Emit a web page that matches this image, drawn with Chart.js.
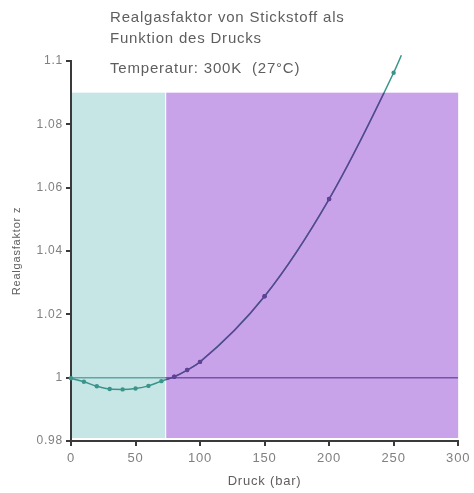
<!DOCTYPE html>
<html>
<head>
<meta charset="utf-8">
<script src="https://cdn.jsdelivr.net/npm/chart.js@4.4.1/dist/chart.umd.min.js"></script>
<style>
    html, body { margin: 0; padding: 0; background: #fff; }
    #wrap { width: 474px; height: 493px; }
</style>
</head>
<body>
<div id="wrap"><canvas id="zChart" width="474" height="493"></canvas></div>
<script>
const druck = [0, 10, 20, 30, 40, 50, 60, 70, 80, 90, 100, 150, 200, 250];
const realgasfaktor = [0.9998, 0.9987, 0.9973, 0.9964, 0.9963, 0.9966, 0.9974, 0.9989, 1.0003, 1.0024, 1.005, 1.0257, 1.0564, 1.0963];
// Verlängerung der Kurve über den letzten Punkt hinaus
const kurveEndeDruck = [256];
const kurveEndeZ = [1.1018];

// Referenzlinie Z = 1
const idealDruck = [0, 73, 300];
const idealZ = [1, 1, 1];

// Hintergrundbereiche
const bereichVon = [0, 73];
const bereichBis = [73, 300];
const bereichOben = 1.09;
const bereichFarben = ['#c6e5e5', '#c9a3ea'];

const yTicks = [0.98, 1, 1.02, 1.04, 1.06, 1.08, 1.1];
const xTicks = [0, 50, 100, 150, 200, 250, 300];

const titelZeilen = ['Realgasfaktor von Stickstoff als', 'Funktion des Drucks'];
const untertitel = 'Temperatur: 300K  (27°C)';

const GRENZE = 73;
const TEAL = '#3a948a';
const LILA = '#5e4394';
const SCHRIFT = '"Liberation Sans", Arial, sans-serif';

function farbeFuer(x, y) {
    if (x < GRENZE || y > bereichOben) return TEAL;
    return LILA;
}

const kurvePunkte = druck.map((p, i) => ({ x: p, y: realgasfaktor[i] }))
    .concat(kurveEndeDruck.map((p, i) => ({ x: p, y: kurveEndeZ[i] })));
const idealPunkte = idealDruck.map((p, i) => ({ x: p, y: idealZ[i] }));

function lilaRechteck(chart) {
    const { x, y } = chart.scales;
    const x0 = x.getPixelForValue(bereichVon[1]) + 1;
    const x1 = x.getPixelForValue(bereichBis[1]);
    const yTop = y.getPixelForValue(bereichOben);
    const yBot = y.getPixelForValue(y.min) - 3;
    return [x0, yTop, x1 - x0, yBot - yTop];
}

// Hintergrundflächen hinter den Daten, Kurve im lila Bereich nachfärben
const bereichPlugin = {
    id: 'bereiche',
    beforeDraw(chart) {
        chart.ctx.letterSpacing = '0.8px';
    },
    beforeDatasetsDraw(chart) {
        const { ctx, scales: { x, y } } = chart;
        ctx.save();
        const yTop = y.getPixelForValue(bereichOben);
        const yBot = y.getPixelForValue(y.min) - 3;
        bereichVon.forEach((von, i) => {
            const x0 = x.getPixelForValue(von) + 1;
            const x1 = x.getPixelForValue(bereichBis[i]);
            ctx.fillStyle = bereichFarben[i];
            ctx.fillRect(x0, yTop, x1 - x0, yBot - yTop);
        });
        ctx.restore();
    },
    afterDatasetsDraw(chart) {
        const ctx = chart.ctx;
        const meta = chart.getDatasetMeta(1);
        const linie = meta.dataset;
        ctx.save();
        ctx.beginPath();
        ctx.rect(...lilaRechteck(chart));
        ctx.clip();
        const alt = linie.options.borderColor;
        linie.options.borderColor = LILA;
        linie.draw(ctx, chart.chartArea);
        linie.options.borderColor = alt;
        meta.data.forEach(pt => pt.draw(ctx, chart.chartArea));
        ctx.restore();
    }
};

// Titeltexte
const textPlugin = {
    id: 'texte',
    afterDraw(chart) {
        const ctx = chart.ctx;
        ctx.save();
        ctx.letterSpacing = '0.8px';
        ctx.fillStyle = '#5e5e5e';
        ctx.font = '15px ' + SCHRIFT;
        ctx.textBaseline = 'middle';
        ctx.textAlign = 'left';
        ctx.fillText(titelZeilen[0], 110, 18);
        ctx.fillText(titelZeilen[1], 110, 39);
        ctx.fillText(untertitel, 110, 69);
        ctx.restore();
    }
};

const ctx = document.getElementById('zChart').getContext('2d');
new Chart(ctx, {
    type: 'scatter',
    data: {
        datasets: [
            {
                label: 'Ideal',
                data: idealPunkte,
                showLine: true,
                pointRadius: 0,
                borderWidth: 1.5,
                segment: {
                    borderColor: c => c.p0.parsed.x < GRENZE ? '#5ea8a4' : '#7453a8'
                },
                order: 2
            },
            {
                label: 'Stickstoff',
                data: kurvePunkte,
                showLine: true,
                clip: false,
                cubicInterpolationMode: 'monotone',
                borderWidth: 1.5,
                borderColor: TEAL,
                pointRadius: c => c.dataIndex < druck.length ? 2.2 : 0,
                pointBorderWidth: 0,
                pointBackgroundColor: c => {
                    const r = c.raw;
                    return r ? farbeFuer(r.x, r.y) : LILA;
                },
                order: 1
            }
        ]
    },
    options: {
        responsive: false,
        animation: false,
        layout: { padding: { top: 61, right: 15, left: 0, bottom: 0 } },
        plugins: {
            legend: { display: false },
            tooltip: { enabled: false }
        },
        scales: {
            x: {
                type: 'linear',
                min: 0,
                max: 300,
                afterBuildTicks: s => { s.ticks = xTicks.map(v => ({ value: v })); },
                afterFit: s => { s.height = 52; },
                border: { color: '#3a3a3a', width: 2 },
                grid: { drawOnChartArea: false, tickLength: 5, color: '#3a3a3a', lineWidth: 2 },
                ticks: {
                    color: '#808080',
                    font: { family: SCHRIFT, size: 13 },
                    padding: 5
                },
                title: {
                    display: true,
                    text: 'Druck (bar)',
                    color: '#5e5e5e',
                    font: { family: SCHRIFT, size: 13 },
                    padding: { top: 0 }
                }
            },
            y: {
                type: 'linear',
                min: 0.98,
                max: 1.1,
                afterBuildTicks: s => { s.ticks = yTicks.map(v => ({ value: v })); },
                afterFit: s => { s.width = 71; },
                border: { color: '#3a3a3a', width: 2 },
                grid: { drawOnChartArea: false, tickLength: 5, color: '#3a3a3a', lineWidth: 2 },
                ticks: {
                    color: '#808080',
                    font: { family: SCHRIFT, size: 12 },
                    padding: 3,
                    callback: v => String(Math.round(v * 100) / 100)
                },
                title: {
                    display: true,
                    text: 'Realgasfaktor z',
                    color: '#5e5e5e',
                    font: { family: SCHRIFT, size: 11 },
                    padding: { top: 10, bottom: 0 }
                }
            }
        }
    },
    plugins: [bereichPlugin, textPlugin]
});
</script>
</body>
</html>
